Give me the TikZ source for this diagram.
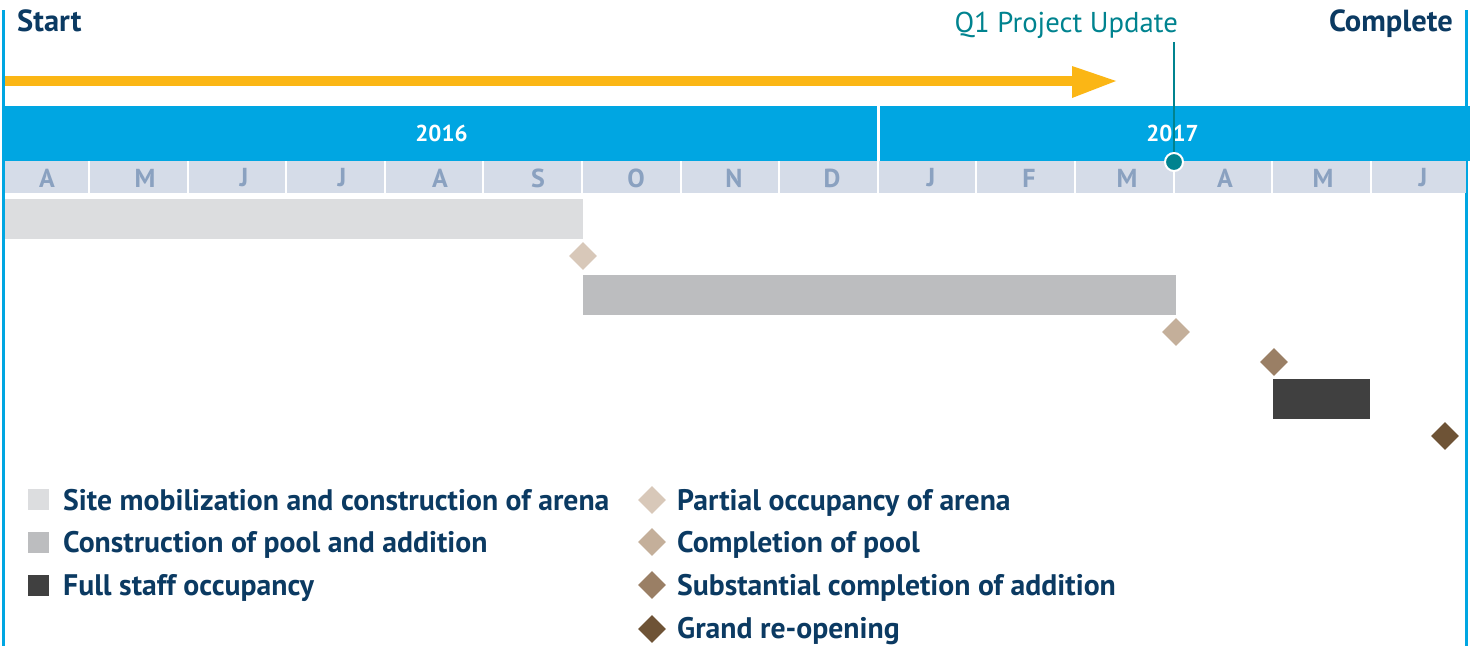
\documentclass[tikz,border=0pt]{standalone}
\usepackage{fontspec}
\setmainfont{PT Sans}
\usetikzlibrary{shapes.geometric}
\definecolor{navy}{HTML}{0B3A62}
\definecolor{teal}{HTML}{00838F}
\definecolor{skyblue}{HTML}{00A6E2}
\definecolor{orangeA}{HTML}{FBB615}
\definecolor{monthbg}{HTML}{D5DCE8}
\definecolor{monthtx}{HTML}{8AA1C0}
\definecolor{barA}{HTML}{DCDDDF}
\definecolor{barB}{HTML}{BCBDBF}
\definecolor{barC}{HTML}{404040}
\definecolor{dmA}{HTML}{D8C8B9}
\definecolor{dmB}{HTML}{C4AF9A}
\definecolor{dmC}{HTML}{9A7F65}
\definecolor{dmD}{HTML}{6E5336}
\tikzset{
  endlabel/.style={font=\fontsize{30.5}{34}\selectfont\bfseries, text=navy, inner sep=0pt},
  legtext/.style={font=\fontsize{29.7}{34}\selectfont\bfseries, text=navy, inner sep=0pt, anchor=base west},
  legsq/.style={draw=none, inner sep=0pt, minimum size=21pt},
  mile/.style={diamond, draw=none, inner sep=0pt, minimum width=28pt, minimum height=28pt},
  monthlbl/.style={font=\fontsize{26}{30}\selectfont\bfseries, text=monthtx, inner sep=0pt},
  yearlbl/.style={font=\fontsize{23}{26}\selectfont\bfseries, text=white, inner sep=0pt},
  bar/.style={draw=none, inner sep=0pt, anchor=north west}
}
\begin{document}
\begin{tikzpicture}[x=1pt,y=-1pt]
\useasboundingbox (0,0) rectangle (1475,646);
\fill[white] (0,0) rectangle (1475,646);
% vertical boundary lines
\fill[skyblue] (2,10) rectangle (5,646);
\fill[skyblue] (1465,10) rectangle (1468,646);
% labels
\node[endlabel, anchor=base west] (start) at (17,31) {Start};
\node[endlabel, anchor=base east] (complete) at (1453,31) {Complete};
\node[font=\fontsize{28.7}{32}\selectfont, text=teal, inner sep=0pt, anchor=base east] (q1) at (1178,32) {Q1 Project Update};
% orange arrow
\fill[orangeA] (5,76) rectangle (1073,86);
\fill[orangeA] (1072,66) -- (1116,81) -- (1072,98) -- cycle;
% year band
\fill[skyblue] (5,106) rectangle (1470,161);
\fill[white] (877,106) rectangle (880,161);
\node[yearlbl] (y2016) at (441.5,133) {2016};
\node[yearlbl] (y2017) at (1172.5,133) {2017};
% month row
\fill[monthbg] (5,161) rectangle (1466,193);
\foreach \xb in {89,187.6,286.2,384.8,483.4,582,680.6,779.2,877.8,976.4,1075,1173.6,1272.2,1370.8}
  \fill[white] (\xb-1,161) rectangle (\xb+1,193);
\foreach \xc/\m [count=\i] in {47/A,145/M,244/J,342/J,440/A,538/S,636/O,734/N,832/D,931/J,1029/F,1127/M,1225/A,1323/M,1423/J}
  \node[monthlbl] (m\i) at (\xc,178) {\m};
% bars
\node[bar, fill=barA, minimum width=578pt, minimum height=40pt] (bar1) at (5,199) {};
\node[bar, fill=barB, minimum width=593pt, minimum height=40pt] (bar2) at (583,275) {};
\node[bar, fill=barC, minimum width=97pt, minimum height=40pt] (bar3) at (1273,379) {};
% milestones
\node[mile, fill=dmA] (d1) at (583,256) {};
\node[mile, fill=dmB] (d2) at (1176,332) {};
\node[mile, fill=dmC] (d3) at (1274,362) {};
\node[mile, fill=dmD] (d4) at (1445,436) {};
% Q1 marker
\node[circle, fill=teal, draw=white, line width=2pt, minimum size=18pt, inner sep=0pt] (q1dot) at (1174,162) {};
\draw[teal, line width=2.5pt] (1174,42) -- (q1dot.north);
% legend
\node[legsq, fill=barA] (ls1) at (38.5,499.5) {};
\node[legsq, fill=barB] (ls2) at (38.5,542) {};
\node[legsq, fill=barC] (ls3) at (38.5,585) {};
\node[legtext] (lt1) at (63,510) {Site mobilization and construction of arena};
\node[legtext] (lt2) at (63,552) {Construction of pool and addition};
\node[legtext] (lt3) at (63,595) {Full staff occupancy};
\node[mile, fill=dmA] (ld1) at (652,500) {};
\node[mile, fill=dmB] (ld2) at (652,542) {};
\node[mile, fill=dmC] (ld3) at (652,585) {};
\node[mile, fill=dmD] (ld4) at (652,629) {};
\node[legtext] (lt4) at (677,510) {Partial occupancy of arena};
\node[legtext] (lt5) at (677,552) {Completion of pool};
\node[legtext] (lt6) at (677,595) {Substantial completion of addition};
\node[legtext] (lt7) at (677,638) {Grand re-opening};
\end{tikzpicture}
\end{document}
